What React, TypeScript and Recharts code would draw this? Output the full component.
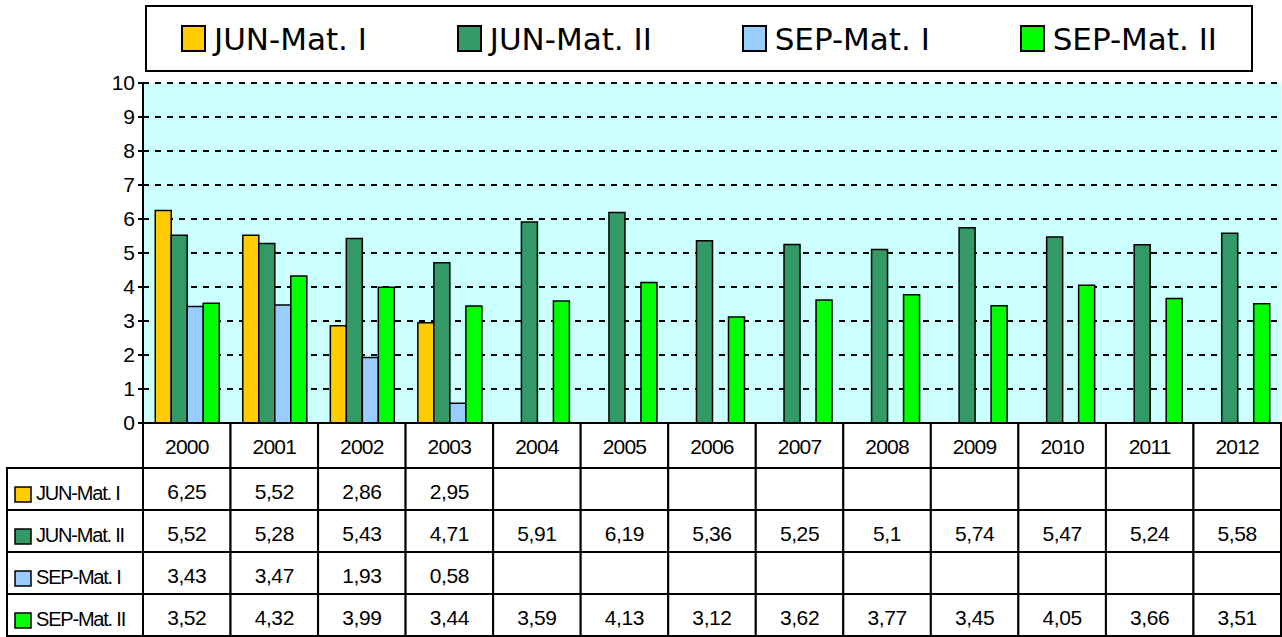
import { BarChart, Bar, XAxis, YAxis, CartesianGrid } from "recharts";

const years = ["2000", "2001", "2002", "2003", "2004", "2005", "2006", "2007", "2008", "2009", "2010", "2011", "2012"];

const junMatI = [6.25, 5.52, 2.86, 2.95, null, null, null, null, null, null, null, null, null];
const junMatII = [5.52, 5.28, 5.43, 4.71, 5.91, 6.19, 5.36, 5.25, 5.1, 5.74, 5.47, 5.24, 5.58];
const sepMatI = [3.43, 3.47, 1.93, 0.58, null, null, null, null, null, null, null, null, null];
const sepMatII = [3.52, 4.32, 3.99, 3.44, 3.59, 4.13, 3.12, 3.62, 3.77, 3.45, 4.05, 3.66, 3.51];

const yTicks = [0, 1, 2, 3, 4, 5, 6, 7, 8, 9, 10];

const series = [
  { key: "junMatI", name: "JUN-Mat. I", color: "#FFCC00", values: junMatI },
  { key: "junMatII", name: "JUN-Mat. II", color: "#339966", values: junMatII },
  { key: "sepMatI", name: "SEP-Mat. I", color: "#99CCFF", values: sepMatI },
  { key: "sepMatII", name: "SEP-Mat. II", color: "#00FF00", values: sepMatII },
];

const data = years.map((year, i) => {
  const row: Record<string, string | number | null> = { year };
  series.forEach((s) => {
    row[s.key] = s.values[i];
  });
  return row;
});

// layout
const PLOT_LEFT = 143;
const PLOT_RIGHT = 1281;
const PLOT_BOTTOM = 423;
const BAND = (PLOT_RIGHT - PLOT_LEFT) / years.length;
const HEADER_H = 45;
const ROW_H = 42;
const TABLE_LEFT = 7;
const FONT = "'Liberation Sans', Arial, sans-serif";

const fmt = (v: number | null) => (v == null ? "" : String(v).replace(".", ","));

const TableTick = (props: any) => {
  const { x, payload } = props;
  const i = years.indexOf(payload.value);
  const left = x - BAND / 2;
  const rowsTop = PLOT_BOTTOM + HEADER_H;

  return (
    <g>
      <rect x={left} y={PLOT_BOTTOM} width={BAND} height={HEADER_H} fill="#fff" stroke="#000" strokeWidth={2} />
      <text x={x} y={PLOT_BOTTOM + 31} textAnchor="middle" fontSize={21} fontFamily={FONT} fill="#000" letterSpacing={-0.8}>
        {payload.value}
      </text>
      {series.map((s, r) => (
        <g key={s.key}>
          <rect x={left} y={rowsTop + r * ROW_H} width={BAND} height={ROW_H} fill="#fff" stroke="#000" strokeWidth={2} />
          <text x={x} y={rowsTop + r * ROW_H + 31} textAnchor="middle" fontSize={21} fontFamily={FONT} fill="#000" letterSpacing={-0.4}>
            {fmt(s.values[i])}
          </text>
        </g>
      ))}
      {i === 0 &&
        series.map((s, r) => (
          <g key={"lbl" + s.key}>
            <rect
              x={TABLE_LEFT}
              y={rowsTop + r * ROW_H}
              width={left - TABLE_LEFT}
              height={ROW_H}
              fill="#fff"
              stroke="#000"
              strokeWidth={2}
            />
            <rect x={15} y={rowsTop + r * ROW_H + 19} width={16} height={15} fill={s.color} stroke="#000" strokeWidth={1.5} />
            <text x={36} y={rowsTop + r * ROW_H + 32} fontSize={20} fontFamily={FONT} fill="#000" letterSpacing={-1.2}>
              {s.name}
            </text>
          </g>
        ))}
    </g>
  );
};

const ChartLegend = () => (
  <div
    style={{
      position: "absolute",
      left: 145,
      top: 5,
      width: 1108,
      height: 67,
      boxSizing: "border-box",
      border: "2px solid #000",
      background: "#fff",
      display: "flex",
      alignItems: "center",
      justifyContent: "space-between",
      padding: "0 34px",
      fontFamily: "'Comic Sans MS', 'DejaVu Sans', sans-serif",
      fontSize: 31,
      color: "#000",
    }}
  >
    {series.map((s) => (
      <div key={s.key} style={{ display: "flex", alignItems: "center" }}>
        <div
          style={{
            width: 25,
            height: 27,
            boxSizing: "border-box",
            border: "2px solid #000",
            background: s.color,
            marginRight: 8,
          }}
        />
        <span>{s.name}</span>
      </div>
    ))}
  </div>
);

export default function App() {
  return (
    <div style={{ position: "absolute", left: 0, top: 0, width: 1282, height: 637, background: "#fff" }}>
      <BarChart
        width={1282}
        height={637}
        data={data}
        margin={{ top: 83, right: 1, bottom: 0, left: 83 }}
        barGap={0}
        barCategoryGap="14%"
      >
        <CartesianGrid
          vertical={false}
          stroke="#000"
          strokeWidth={2}
          strokeDasharray="6 6"
          fill="#CCFFFF"
          fillOpacity={1}
        />
        <XAxis
          dataKey="year"
          height={214}
          interval={0}
          axisLine={false}
          tickLine={false}
          tick={<TableTick />}
        />
        <YAxis
          width={60}
          domain={[0, 10]}
          ticks={yTicks}
          interval={0}
          axisLine={{ stroke: "#000", strokeWidth: 2 }}
          tickLine={{ stroke: "#000", strokeWidth: 2 }}
          tickSize={5}
          tickMargin={3}
          tick={{ fill: "#000", fontSize: 21, fontFamily: FONT }}
        />
        {series.map((s) => (
          <Bar
            key={s.key}
            dataKey={s.key}
            name={s.name}
            fill={s.color}
            stroke="#000"
            strokeWidth={1.5}
            isAnimationActive={false}
          />
        ))}
      </BarChart>
      <ChartLegend />
    </div>
  );
}
